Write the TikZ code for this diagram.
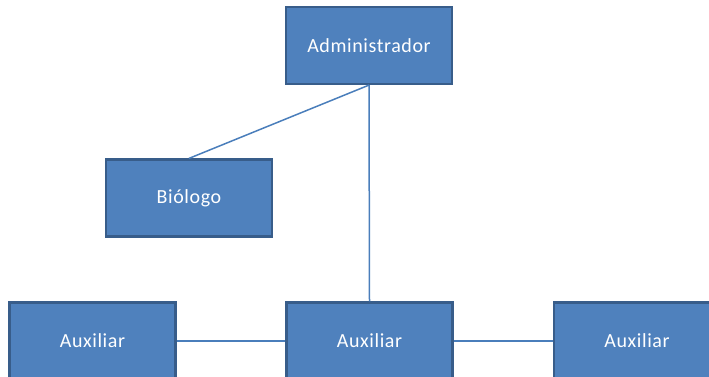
\documentclass[tikz,border=0pt]{standalone}
\usepackage{fontspec}
\setmainfont{Carlito}[LetterSpace=3]
\definecolor{boxfill}{HTML}{4F81BD}
\definecolor{boxedge}{HTML}{385D8A}
\definecolor{linkcol}{HTML}{4A7EBB}
\begin{document}
\begin{tikzpicture}[x=1pt,y=1pt,
  role/.style={rectangle, draw=boxedge, fill=boxfill, line width=2.2pt,
    minimum width=166pt, minimum height=77pt, inner sep=0pt,
    text=white, font=\fontsize{20}{22}\selectfont},
  link/.style={draw=linkcol, line width=1.5pt}]
\useasboundingbox (0,0) rectangle (709,377);
\node[role] (adm) at (369,331.5) {Administrador};
\node[role] (bio) at (189,179) {Biólogo};
\node[role] (aux1) at (92.5,36) {Auxiliar};
\node[role] (aux2) at (369.5,36) {Auxiliar};
\node[role] (aux3) at (637,36) {Auxiliar};
\draw[link] (adm.south) -- (bio.north);
\draw[link] (adm.south) -- (aux2.north);
\draw[link] (aux1.east) -- (aux2.west);
\draw[link] (aux2.east) -- (aux3.west);
\end{tikzpicture}
\end{document}
